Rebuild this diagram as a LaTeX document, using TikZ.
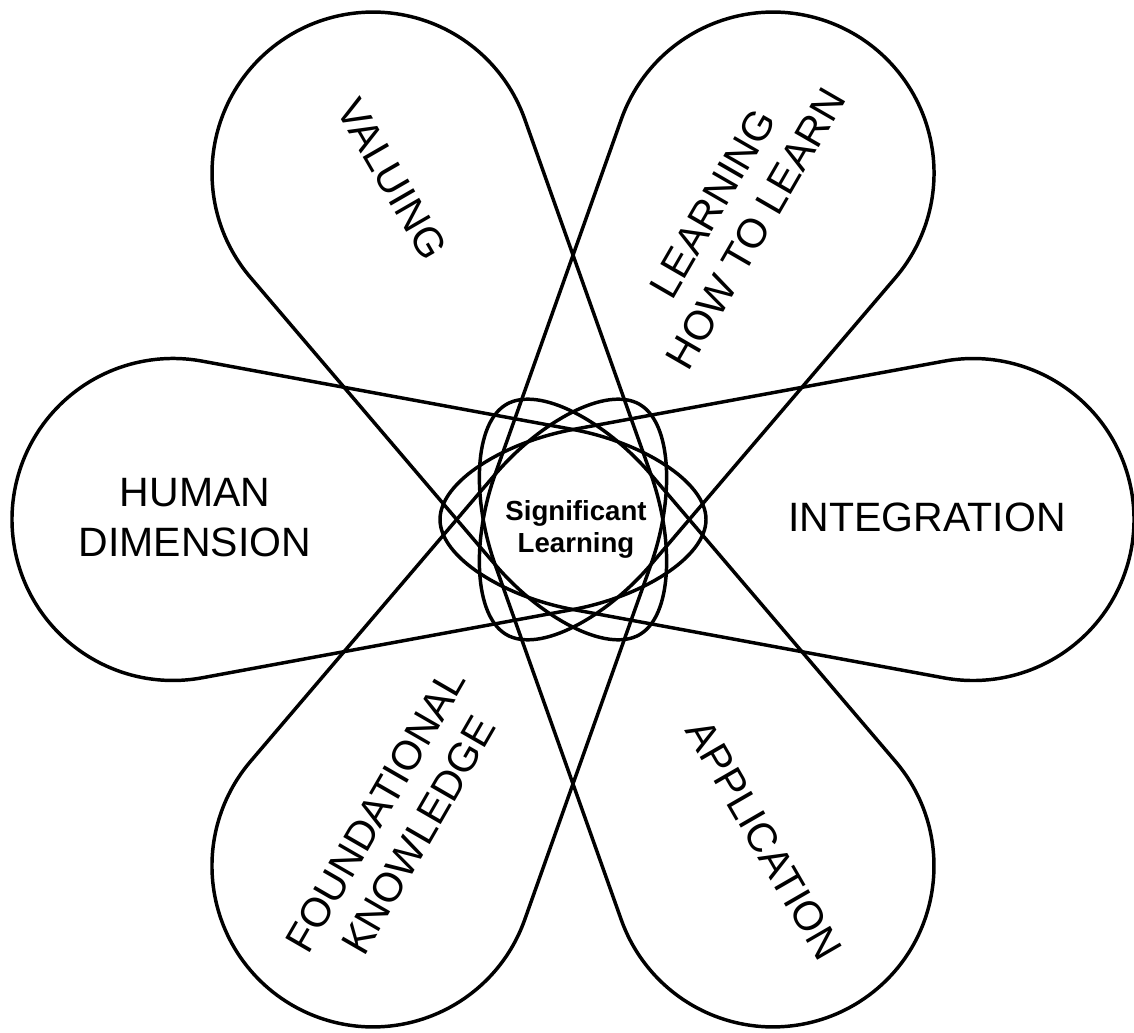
\documentclass[tikz,border=0pt]{standalone}
\usepackage{fontspec}
\setmainfont{Liberation Sans}
\tikzset{
  petal/.style={draw=black, line width=2.6pt, line join=round},
  lbl/.style={font=\fontsize{30.75}{37.5}\selectfont, align=center, inner sep=0pt},
  core/.style={font=\bfseries\fontsize{20.7}{24}\selectfont, align=center, inner sep=0pt}
}
\begin{document}
\begin{tikzpicture}[x=0.75pt,y=0.75pt]
\useasboundingbox (0,0) rectangle (1134,1032);
\coordinate (ctr) at (573,512.5);
\foreach \a in {0,60,120,180,240,300}{
  \begin{scope}[shift={(ctr)}, rotate=\a]
    \draw[petal] (-133,0) .. controls (-133,38) and (-68.8,77.3) .. (0,90)
      -- (370.9,158.3) arc[start angle=100.42, end angle=-100.42, radius=161]
      -- (0,-90) .. controls (-68.8,-77.3) and (-133,-38) .. cycle;
  \end{scope}
}
\node[lbl] (hum) at (195,514) {HUMAN\\DIMENSION};
\node[lbl] (int) at (927,515) {INTEGRATION};
\node[lbl, rotate=-60] (val) at (392,853) {VALUING};
\node[lbl, rotate=60] (lrn) at (734,816) {LEARNING\\HOW TO LEARN};
\node[lbl, rotate=60] (fnd) at (397,209) {FOUNDATIONAL\\KNOWLEDGE};
\node[lbl, rotate=-60] (app) at (764,192) {APPLICATION};
\node[core] (sig) at (576,503) {Significant\\Learning};
\end{tikzpicture}
\end{document}
